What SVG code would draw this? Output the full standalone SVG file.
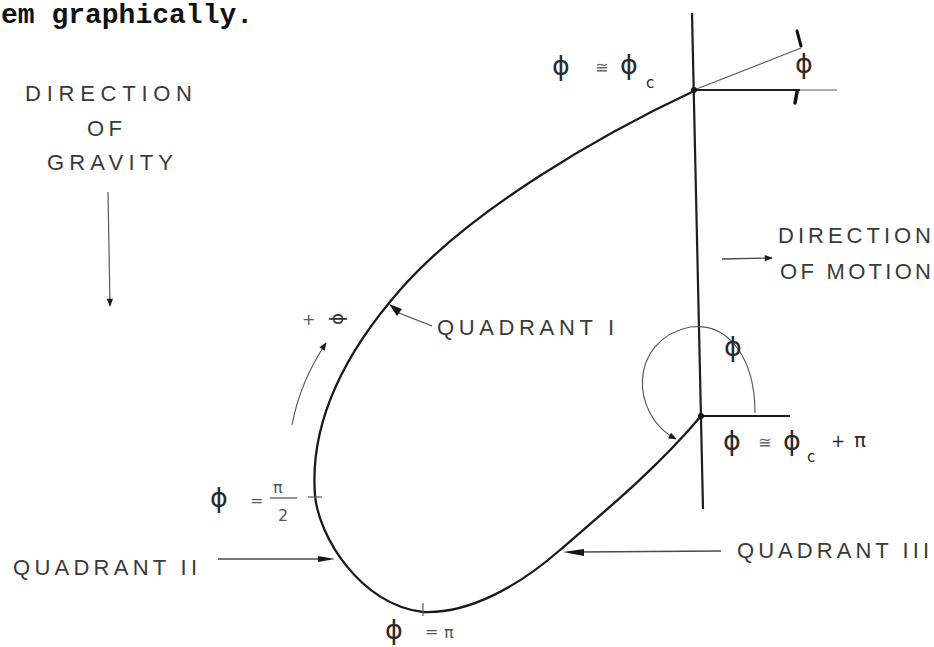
<svg xmlns="http://www.w3.org/2000/svg" width="934" height="647" viewBox="0 0 934 647">
<style>
.bg{fill:#fff}
.curve{fill:none;stroke:#1a1a1a;stroke-width:2.3;stroke-linecap:round}
.axis{fill:none;stroke:#1e1e1e;stroke-width:2.2}
.thin{fill:none;stroke:#5a5a5a;stroke-width:1.2}
.lead{fill:none;stroke:#4a4a4a;stroke-width:1.3}
.blob{fill:#151515}
.lbl{font-family:"Liberation Sans","DejaVu Sans",sans-serif;font-size:22px;fill:#3a3a3a}
.sym{font-family:"DejaVu Sans",sans-serif;font-size:27px;fill:#2a2a2a}
.sm{font-family:"DejaVu Sans",sans-serif;font-size:16px;fill:#555}
.hdr{font-family:"Liberation Mono",monospace;font-size:28px;font-weight:bold;fill:#111}
</style>
<defs>
<marker id="ah" viewBox="0 0 10 10" refX="9" refY="5" markerWidth="14" markerHeight="8" markerUnits="userSpaceOnUse" orient="auto">
<path d="M0,1 L10,5 L0,9 z" fill="#1a1a1a"/>
</marker>
</defs>
<rect class="bg" x="0" y="0" width="934" height="647"/>
<text id="header" class="hdr" x="1" y="23">em graphically.</text>

<g id="gravity">
<text class="lbl" x="25" y="101" textLength="167" lengthAdjust="spacing">DIRECTION</text>
<text class="lbl" x="87" y="136" textLength="35" lengthAdjust="spacing">OF</text>
<text class="lbl" x="47" y="170" textLength="126" lengthAdjust="spacing">GRAVITY</text>
</g>

<g id="motion">
<text class="lbl" x="778" y="243" textLength="153" lengthAdjust="spacing">DIRECTION</text>
<text class="lbl" x="780" y="279" textLength="151" lengthAdjust="spacing">OF MOTION</text>
</g>

<g id="axis">
<line class="axis" x1="692" y1="13" x2="703" y2="509"/>
<line class="axis" x1="694" y1="90" x2="800" y2="90"/>
<line class="thin" x1="800" y1="90" x2="837" y2="90"/>
<line class="thin" x1="694" y1="90" x2="801" y2="48"/>
<line class="axis" x1="701" y1="416" x2="790" y2="416"/>
<circle cx="694" cy="90" r="3" fill="#111"/>
<circle cx="701" cy="416" r="3" fill="#111"/>
</g>

<g id="loop">
<path class="curve" d="M 694 91 C 600 135 470 210 400 290 C 365 330 308 405 315 495 C 318 535 360 605 423 612 C 470 614 520 585 560 550 C 610 507 660 465 701 416"/>
<line class="thin" x1="308" y1="497" x2="322" y2="497"/>
<line class="thin" x1="423" y1="603" x2="423" y2="616"/>
</g>

<g id="angle-top">
<line x1="797" y1="31" x2="801" y2="46" stroke="#111" stroke-width="3" stroke-linecap="round"/>
<line x1="797" y1="92" x2="795" y2="103" stroke="#111" stroke-width="3.5" stroke-linecap="round"/>
<text class="sym" x="795" y="73">ϕ</text>
<text class="sym" x="552" y="75"><tspan>ϕ</tspan><tspan x="595" y="73" font-size="16" fill="#666">≅</tspan><tspan x="620" y="74">ϕ</tspan><tspan x="646" y="88" font-size="15">c</tspan></text>
</g>

<g id="angle-bottom">
<path class="thin" d="M 755 413 C 755 360 730 322 690 327 C 628 340 630 415 676 439" marker-end="url(#ah)"/>
<text class="sym" x="724" y="356">ϕ</text>
<text class="sym" x="723" y="450"><tspan>ϕ</tspan><tspan x="758" y="448" font-size="16" fill="#666">≅</tspan><tspan x="783" y="450">ϕ</tspan><tspan x="807" y="462" font-size="15">c</tspan><tspan x="831" y="447" font-size="17">+</tspan><tspan x="854" y="447" font-size="20">π</tspan></text>
</g>

<g id="phi-half-pi">
<text class="sym" x="210" y="507">ϕ</text>
<text class="sm" x="250" y="506">=</text>
<text class="sm" x="273" y="493" font-size="18">π</text>
<line x1="270" y1="498" x2="297" y2="498" stroke="#555" stroke-width="1.3"/>
<text class="sm" x="278" y="521" font-size="18">2</text>
</g>

<g id="phi-pi">
<text class="sym" x="385" y="639">ϕ</text>
<text class="sm" x="425" y="637">=</text>
<text class="sm" x="444" y="638" font-size="19">π</text>
</g>

<g id="plus-phi">
<text class="sm" x="302" y="325" font-size="17">+<tspan x="333" y="313" rotate="90" font-size="18" fill="#333">ϕ</tspan></text>
</g>

<g id="quadrant-1">
<text class="lbl" x="437" y="335" textLength="177" lengthAdjust="spacing">QUADRANT I</text>
</g>
<g id="quadrant-2">
<text class="lbl" x="13" y="575" textLength="184" lengthAdjust="spacing">QUADRANT II</text>
</g>
<g id="quadrant-3">
<text class="lbl" x="737" y="558" textLength="192" lengthAdjust="spacing">QUADRANT III</text>
</g>

<g id="connectors">
<line class="thin" x1="108" y1="192" x2="110" y2="306" marker-end="url(#ah)"/>
<line class="lead" x1="722" y1="259" x2="772" y2="258" marker-end="url(#ah)"/>
<path class="thin" d="M 292 425 Q 300 382 326 343" marker-end="url(#ah)"/>
<line class="lead" x1="399" y1="313" x2="432" y2="326"/>
<path class="blob" d="M 389 304 L 402 309 L 397 316 Z"/>
<line class="lead" x1="218" y1="559" x2="322" y2="559"/>
<path class="blob" d="M 318 556 L 335 559 L 318 562 Z"/>
<line class="lead" x1="580" y1="552" x2="721" y2="551"/>
<path class="blob" d="M 563 552 L 584 549 L 584 556 Z"/>
</g>
</svg>
